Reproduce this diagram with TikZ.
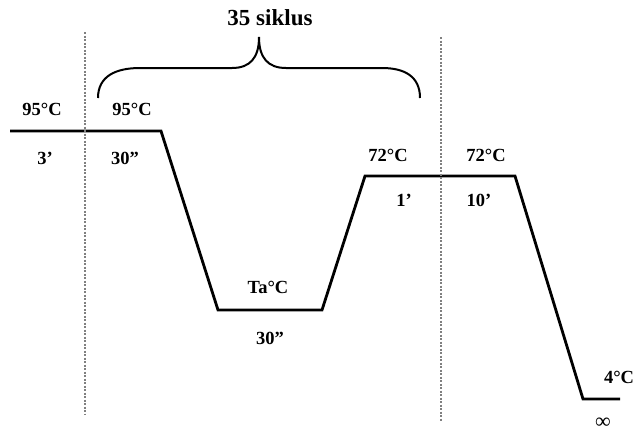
\documentclass[tikz,border=0pt]{standalone}
\usepackage{fontspec}
\setmainfont{Liberation Serif}
\begin{document}
\begin{tikzpicture}[x=1pt,y=-1pt,
  lbl/.style={font=\fontsize{18.5}{20}\selectfont\bfseries, inner sep=0pt},
  prof/.style={line width=2.8pt, line join=miter},
  sep/.style={gray, line width=1.3pt, dash pattern=on 2pt off 1.5pt},
  brace/.style={line width=2pt}]
\useasboundingbox (0,0) rectangle (636,434);
% profile coordinates
\coordinate (p0) at (10,131);
\coordinate (p1) at (161,131);
\coordinate (p2) at (218,310);
\coordinate (p3) at (322,310);
\coordinate (p4) at (365,176);
\coordinate (p5) at (515,176);
\coordinate (p6) at (583,399);
\coordinate (p7) at (620,399);
\draw[prof] (p0) -- (p1) -- (p2) -- (p3) -- (p4) -- (p5) -- (p6) -- (p7);
% separators
\coordinate (s1t) at (85,32);
\coordinate (s1b) at (85,415);
\coordinate (s2t) at (441,37);
\coordinate (s2b) at (441,422);
\draw[sep] (s1t) -- (s1b);
\draw[sep] (s2t) -- (s2b);
% brace
\coordinate (bl) at (98,98);
\coordinate (bt) at (259,37);
\coordinate (br) at (420,98);
\draw[brace] (bl) .. controls (98,76) and (116,68) .. (140,68) -- (232,68)
  .. controls (250,68) and (259,58) .. (bt)
  .. controls (259,58) and (268,68) .. (286,68) -- (382,68)
  .. controls (404,68) and (420,76) .. (br);
% labels
\node[lbl, font=\fontsize{23}{25}\selectfont\bfseries] (cyc) at (270,18) {35 siklus};
\node[lbl] (t1) at (42,109) {95°C};
\node[lbl] (d1) at (45,158) {3’};
\node[lbl] (t2) at (132,109) {95°C};
\node[lbl] (d2) at (125,158) {30”};
\node[lbl] (t3) at (268,287) {Ta°C};
\node[lbl] (d3) at (270,338) {30”};
\node[lbl] (t4) at (388,155) {72°C};
\node[lbl] (d4) at (404,200) {1’};
\node[lbl] (t5) at (486,155) {72°C};
\node[lbl] (d5) at (479,200) {10’};
\node[lbl] (t6) at (619,377) {4°C};
\node[lbl, font=\fontsize{22}{24}\selectfont] (d6) at (603,423) {∞};
\end{tikzpicture}
\end{document}
